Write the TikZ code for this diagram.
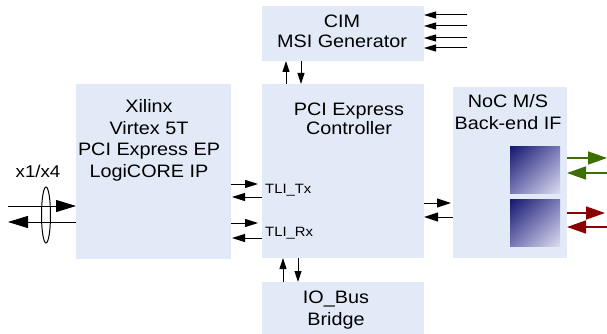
\documentclass[tikz,border=0pt]{standalone}
\usepackage{fontspec}
\setmainfont{Liberation Sans}[FakeStretch=1.1]
\usetikzlibrary{arrows.meta,shadings}
\definecolor{boxblue}{HTML}{E3EAF7}
\definecolor{arrgreen}{HTML}{3D6E00}
\definecolor{arrred}{HTML}{8B0000}
\definecolor{sqdark}{HTML}{15156F}
\definecolor{sqmid}{HTML}{7878B6}
\definecolor{sqlight}{HTML}{DCDCF0}
\begin{document}
\begin{tikzpicture}[x=1pt,y=-1pt,
  blk/.style={fill=boxblue,draw=none,inner sep=0,outer sep=0,anchor=north west},
  sq/.style={upper left=sqdark,lower right=sqlight,upper right=sqmid,lower left=sqmid,
    inner sep=0,outer sep=0,anchor=north west,minimum width=50,minimum height=47},
  lbl/.style={font=\fontsize{18}{21}\selectfont,anchor=base,inner sep=0},
  sml/.style={font=\fontsize{13.5}{16}\selectfont,anchor=base west,inner sep=0},
  bigarr/.style={-{Triangle[length=20pt,width=12pt]},line width=1pt},
  midarr/.style={-{Triangle[length=13pt,width=8pt]},line width=1pt},
  nocarr/.style={-{Triangle[length=14pt,width=9pt]},line width=1pt},
  cimarr/.style={-{Triangle[length=12pt,width=7pt]},line width=1pt},
  varr/.style={-{Triangle[length=11pt,width=7pt]},line width=1pt},
  colarr/.style={-{Triangle[length=19pt,width=13pt]},line width=1.5pt},
]
\useasboundingbox (0,0) rectangle (607,334);
% boxes
\node[blk,minimum width=155,minimum height=175] (left) at (76,84) {};
\node[blk,minimum width=162,minimum height=174] (pci) at (262,84) {};
\node[blk,minimum width=114,minimum height=171] (noc) at (453,87) {};
\node[blk,minimum width=162,minimum height=55] (cim) at (262,6) {};
\node[blk,minimum width=162,minimum height=52] (io) at (262,282) {};
\node[sq] (q1) at (510,146) {};
\node[sq] (q2) at (510,199) {};
% texts
\node[lbl] (l1) at (149,113) {Xilinx};
\node[lbl] (l2) at (149,134) {Virtex 5T};
\node[lbl] (l3) at (149,155) {PCI Express EP};
\node[lbl] (l4) at (149,177) {LogiCORE IP};
\node[lbl] (p1) at (349,116) {PCI Express};
\node[lbl] (p2) at (349,135) {Controller};
\node[lbl] (c1) at (342,28) {CIM};
\node[lbl] (c2) at (342,48) {MSI Generator};
\node[lbl] (n1) at (508,108) {NoC M/S};
\node[lbl] (n2) at (508,129) {Back-end IF};
\node[lbl] (i1) at (336,303) {IO\_Bus};
\node[lbl] (i2) at (336,325) {Bridge};
\node[sml] (tx) at (265,193) {TLI\_Tx};
\node[sml] (rx) at (265,236) {TLI\_Rx};
\node[font=\fontsize{17}{20}\selectfont,anchor=base,inner sep=0] (lanes) at (38,177) {x1/x4};
% external link
\coordinate (exA) at (8,206);
\coordinate (exB) at (8,222);
\draw[bigarr] (exA) -- (exA -| left.west);
\draw[bigarr] (exB -| left.west) -- (exB);
\draw[line width=1pt] (46,215) ellipse [x radius=4.5pt, y radius=28pt];
% TLI
\draw[midarr,shorten >=4pt] (left.east |- 0,184) -- (pci.west |- 0,184);
\draw[midarr,shorten >=1pt] (pci.west |- 0,197) -- (left.east |- 0,197);
\draw[midarr,shorten >=4pt] (left.east |- 0,223) -- (pci.west |- 0,223);
\draw[midarr,shorten >=1pt] (pci.west |- 0,238) -- (left.east |- 0,238);
% PCI - NoC
\draw[nocarr,shorten >=2pt] (pci.east |- 0,203) -- (noc.west |- 0,203);
\draw[nocarr] (noc.west |- 0,217) -- (pci.east |- 0,217);
% NoC external
\coordinate (g1) at (607,158);
\coordinate (g2) at (607,173);
\coordinate (r1) at (605,213);
\coordinate (r2) at (607,227);
\draw[colarr,arrgreen] (g1 -| noc.east) -- (g1);
\draw[colarr,arrgreen] (g2) -- (g2 -| noc.east);
\draw[colarr,arrred] (r1 -| noc.east) -- (r1);
\draw[colarr,arrred] (r2) -- (r2 -| noc.east);
% CIM inputs
\foreach \yy [count=\k] in {15,26,38,48}{
  \coordinate (ci\k) at (467,\yy);
  \draw[cimarr] (ci\k) -- (ci\k -| cim.east);
}
% vertical
\draw[varr] (pci.north -| 286,0) -- (cim.south -| 286,0);
\draw[varr] (cim.south -| 301,0) -- (pci.north -| 301,0);
\draw[varr] (io.north -| 283,0) -- (pci.south -| 283,0);
\draw[varr] (pci.south -| 298,0) -- (io.north -| 298,0);
\end{tikzpicture}
\end{document}
